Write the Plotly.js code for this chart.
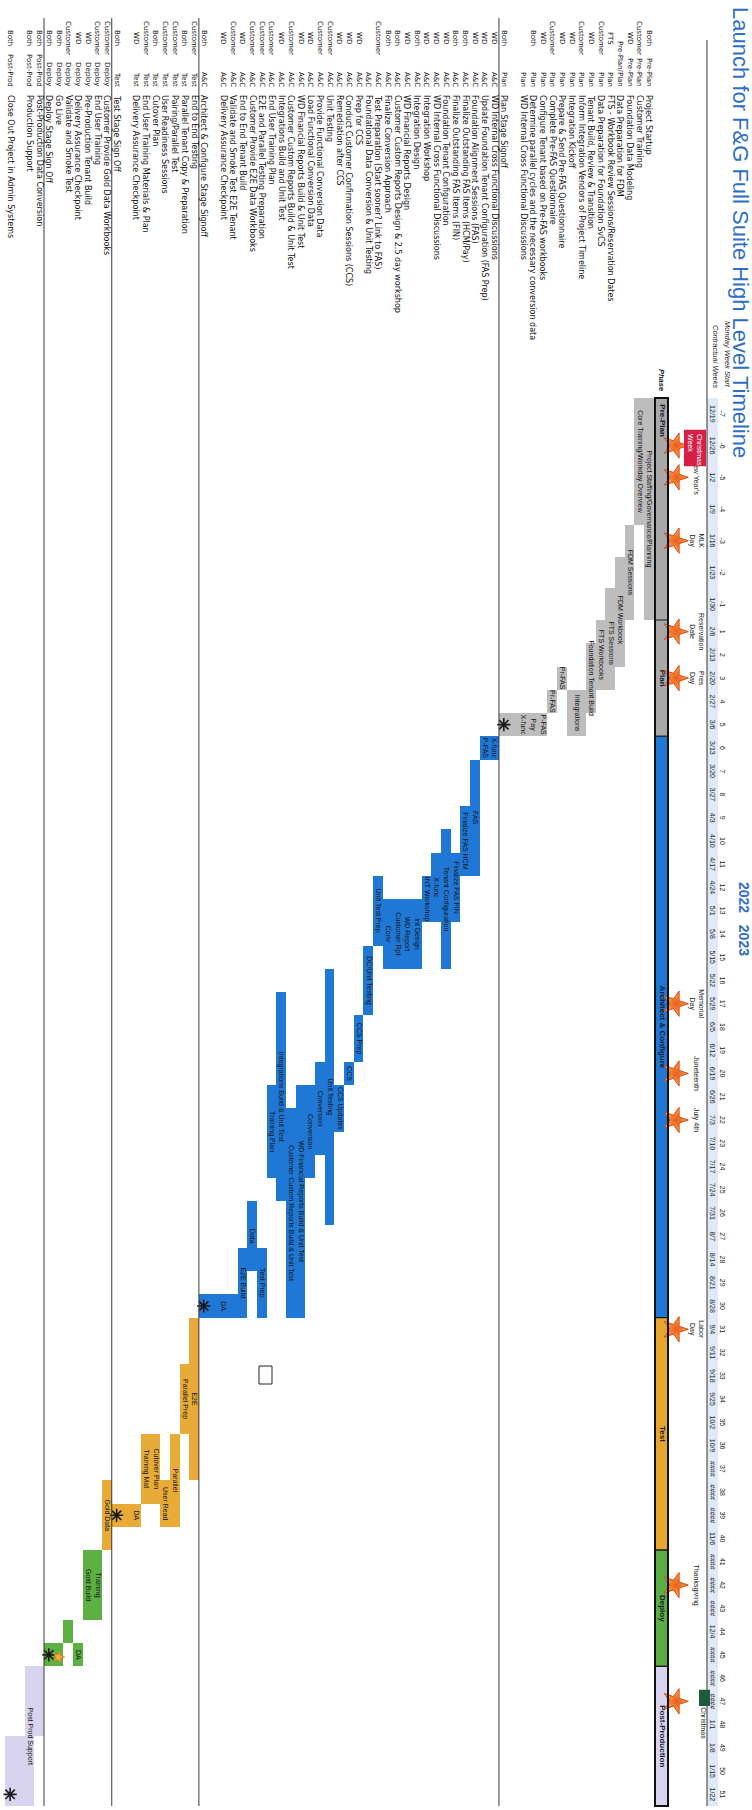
<!DOCTYPE html>
<html><head><meta charset="utf-8">
<script src="https://cdn.plot.ly/plotly-3.0.1.min.js"></script>
<style>
html,body{margin:0;padding:0;width:752px;height:1810px;overflow:hidden;background:#fff;}
#wrap{position:absolute;left:0;top:0;width:1810px;height:752px;transform-origin:0 0;}
#chart{width:1810px;height:752px;}
</style></head>
<body><div id="wrap"><div id="chart"></div></div>
<script>
// ---------------- DATA ----------------
const chartTitle = 'Launch for F&G Full Suite High Level Timeline';
const yearLabels = ['2022', '2023'];

const weekDates = ['12/19','12/26','1/2','1/9','1/16','1/23','1/30','2/6','2/13','2/20','2/27','3/6','3/13','3/20','3/27','4/3','4/10','4/17','4/24','5/1','5/8','5/15','5/22','5/29','6/5','6/12','6/19','6/26','7/3','7/10','7/17','7/24','7/31','8/7','8/14','8/21','8/28','9/4','9/11','9/18','9/25','10/2','10/9','####','####','####','11/6','####','####','####','12/4','####','####','####','1/1','1/8','1/15','1/22'];
const contractWeeks = ['-7','-6','-5','-4','-3','-2','-1','1','2','3','4','5','6','7','8','9','10','11','12','13','14','15','16','17','18','19','20','21','22','23','24','25','26','27','28','29','30','31','32','33','34','35','36','37','38','39','40','41','42','43','44','45','46','47','48','49','50','51'];

const tasks = [
 'Project Startup','Customer Training','Foundation Data Modeling','Data Preparation for FDM',
 'FTS - Workbook Review Sessions/Reservation Dates','Data Preparation for Foundation SvCS',
 'Tenant Build, Review & Transition','Inform Integration Vendors of Project Timeline','Integration Kickoff',
 'Prepare & Send Pre-FAS Questionnaire','Complete Pre-FAS Questionnaire','Configure Tenant based on Pre-FAS workbooks',
 'Determine parallel cycles and the necessary conversion data','WD Internal Cross Functional Discussions','',
 'Plan Stage Signoff',
 'WD Internal Cross Functional Discussions','Update Foundation Tenant Configuration (FAS Prep)','Foundation Alignment Sessions (FAS)',
 'Finalize Outstanding FAS Items (HCM/Pay)','Finalize Outstanding FAS Items (FIN)','Foundation Tenant Configuration',
 'WD Internal Cross Functional Discussions','Integration Workshop','Integration Design','WD Financial Reports Design',
 'Customer Custom Reports Design & 2.5 day workshop','Finalize Conversion Approach','Test Preparation (Start sooner? Link to FAS)',
 'Foundational Data Conversion & Unit Testing','Prep for CCS','Conduct Customer Confirmation Sessions (CCS)','Remediation after CCS',
 'Unit Testing','Provide Functional Conversion Data','Load Functional Conversion Data','WD Financial Reports Build & Unit Test',
 'Customer Custom Reports Build & Unit Test','Integrations Build and Unit Test','End User Training Plan',
 'E2E and Parallel Testing Preparation','Customer Provide E2E Data Workbooks','End to End Tenant Build',
 'Validate and Smoke Test E2E Tenant','Delivery Assurance Checkpoint','','Architect & Configure Stage Signoff',
 'End to End Testing','Parallel Tenant Copy & Preparation','Pairing/Parallel Test','User Readiness Sessions','Cutover Plan',
 'End User Training Materials & Plan','Delivery Assurance Checkpoint','','Test Stage Sign Off',
 'Customer Provide Gold Data Workbooks','End User Training','Pre-Production Tenant Build','Delivery Assurance Checkpoint',
 'Validate and Smoke Test','Go Live','Deploy Stage Sign Off',
 'Post-Production Data Conversion','Production Support','','Close Out Project in Admin Systems'
];
const teams = ['Both','Customer','WD','','FTS','Customer','WD','Customer','WD','WD','Customer','WD','Both','','','Both',
 'WD','WD','WD','Both','Both','WD','WD','WD','Both','WD','Both','Both','Customer','','WD','WD','WD','Customer','Customer','WD','WD','Customer','WD','Customer','Customer','Customer','WD','Customer','WD','','Both',
 'Customer','Both','Customer','Customer','Both','Customer','WD','','Both',
 'Customer','Customer','WD','WD','Customer','Both','Both',
 'Both','Both','','Both'];
const taskPhases = ['Pre-Plan','Pre-Plan','Pre-Plan','Pre-Plan/Plan','Plan','Plan','Plan','Plan','Plan','Plan','Plan','Plan','Plan','Plan','','Plan',
 'A&C','A&C','A&C','A&C','A&C','A&C','A&C','A&C','A&C','A&C','A&C','A&C','A&C','A&C','A&C','A&C','A&C','A&C','A&C','A&C','A&C','A&C','A&C','A&C','A&C','A&C','A&C','A&C','A&C','','A&C',
 'Test','Test','Test','Test','Test','Test','Test','','Test',
 'Deploy','Deploy','Deploy','Deploy','Deploy','Deploy','Deploy',
 'Post-Prod','Post-Prod','','Post-Prod'];

const phaseNames = ['Pre-Plan','Plan','Architect & Configure','Test','Deploy','Post-Production'];
const phaseStart = [0, 7, 12, 37, 47, 52];
const phaseEnd   = [7, 12, 37, 47, 52, 58];
const phaseKey   = ['preplan','plan','ac','test','deploy','post'];

// bars: first row (1-based), rows spanned, start week, end week, label, phase
const barRow   = [1,2,3,4,5,6,7,8,10,11,12,13,14,15, 17,18,19,20,21,22,23,24,25,26,27,28,29,30,31,32,33,34,35,36,37,38,39,40,41,42,43,44,45,46, 48,49,50,51,52,53,54,55,57, 58,59,60,61,62, 64,65,66];
const barSpan  = [1,1,1,1,1,1,1,2,1,1,1,1,1,2, 1,1,1,1,1,1,1,1,1,1,1,1,1,1,1,1,1,1,1,1,1,1,1,1,1,1,1,1,1,2, 1,1,1,1,1,1,1,2,1, 1,1,1,1,2, 2,1,2];
const barStart = [0,0,4,5,6,7,8,10,9,10,11,11,11,11, 12,12,13,15,17,16,17,18,19,19,19,19,18,21,24,26,27,22,26,27,27,28,23,27,34,32,34,36,36,36, 37,39,42,44,42,42,45,45,44, 47,47,51,50,51, 52,52,55];
const barEnd   = [7,4,7,9,10,10,11,12,10,11,12,12,12,12, 13,13,18,18,20,22,20,20,22,22,22,22,21,24,26,27,29,33,30,31,37,37,32,31,37,35,37,37,37,37, 44,42,46,46,45,45,46,46,47, 50,50,52,51,52, 55,58,58];
const barLabel = ['Project Staffing/Governance/Planning','Core Training/Workday Overview','FDM Sessions','FDM Workbook','FTS Sessions','FTS Workbooks','Foundation Tenant Build','Integrations','Pr-FAS','Pr-FAS','P-FAS','Pay','X-func','',
 'X-func','P-FAS','FAS','Finalize FAS HCM','Finalize FAS FIN','Tenant Configuration','X-func','INT Workshop','Int Design','WD Report','Customer Rpt','Conv','Unit Test Prep','DC/Unit Testing','CCS Prep','CCS','CCS Updates','Unit Testing','Conversion','Conversion','WD Financial Reports Build & Unit Test','Customer Custom Reports Build & Unit Test','Integrations Build & Unit Test','Training Plan','Test Prep','Data','E2E Build','','DA','',
 'E2E','Parallel Prep','Parallel','User Read','Cutover Plan','Training Mat','DA','','Gold Data',
 'Training','Gold Build','DA','','',
 '','Post Prod Support',''];
const barPhase = ['plan','plan','plan','plan','plan','plan','plan','plan','plan','plan','plan','plan','plan','plan',
 'ac','ac','ac','ac','ac','ac','ac','ac','ac','ac','ac','ac','ac','ac','ac','ac','ac','ac','ac','ac','ac','ac','ac','ac','ac','ac','ac','ac','ac','ac',
 'test','test','test','test','test','test','test','test','test',
 'deploy','deploy','deploy','deploy','deploy',
 'post','post','post'];

const holidayNames = ['Christmas<br>Week',"New Year's",'MLK<br>Day','Reservation<br>Date','Pres<br>Day','Memorial<br>Day','Juneteenth','July 4th','Labor<br>Day','Thanksgiving','Christmas'];
const holidayWeek  = [1, 2, 4, 7, 9, 23, 26, 28, 37, 48, 53];

const milestoneRow  = [16, 47, 56, 63, 67];
const milestoneWeek = [11.5, 36.5, 45.5, 51.5, 57.5];
const goLiveRow = [62];
const goLiveWeek = [51.6];

// ---------------- GEOMETRY (landscape page, rotated afterwards) ----------------
const W = 1810, H = 752;
const U0 = 398, UB = 620, U1 = 1806;          // pre-plan columns are wider on the sheet
const WSPLIT = contractWeeks.indexOf('1');      // first contractual week
const ROW1_V = 103, PITCH = 9.68;
const slotOfV = v => 1 + (v - ROW1_V) / PITCH;
const px = u => u / W;
const py = v => 1 - v / H;
const FONT = 'Liberation Sans, Arial, Helvetica, sans-serif';
const FONT_LIST = 'DejaVu Sans, Verdana, sans-serif';
const nW = weekDates.length;
const axisOf = w => (w < WSPLIT ? 'x' : 'x2');

const colors = {plan:'#bdbdbd', ac:'#1f78d6', test:'#e9ab37', deploy:'#5db143', post:'#d8d3ee'};
const phaseBarColors = {preplan:'#a9a9a9', plan:'#a9a9a9', ac:'#1f78d6', test:'#e6a62e', deploy:'#5aae44', post:'#d8d3ee'};

const traces = [];
const ann = [];
const shapes = [];

// split interval bars over the two time axes
function barTraces(starts, ends, ys, widths, cols, lineSpec) {
  ['x','x2'].forEach(ax => {
    const b = [], len = [], y = [], wd = [], c = [];
    starts.forEach((s, i) => {
      const e = ends[i];
      const lo = ax === 'x' ? s : Math.max(s, WSPLIT);
      const hi = ax === 'x' ? Math.min(e, WSPLIT) : e;
      if (hi > lo) { b.push(lo); len.push(hi - lo); y.push(ys[i]); wd.push(widths[i]); c.push(cols[i]); }
    });
    if (b.length) traces.push({type:'bar', orientation:'h', xaxis:ax, yaxis:'y', base:b, x:len, y:y, width:wd,
      marker:{color:c, line:lineSpec || {width:0}}, hoverinfo:'skip'});
  });
}
// split point traces (text / markers) over the two time axes
function pointTraces(xs, ys, spec) {
  ['x','x2'].forEach(ax => {
    const idx = xs.map((w,i)=> axisOf(w) === ax ? i : -1).filter(i => i >= 0);
    if (!idx.length) return;
    const t = Object.assign({type:'scatter', xaxis:ax, yaxis:'y', cliponaxis:false, hoverinfo:'skip'}, spec);
    t.x = idx.map(i => xs[i]); t.y = idx.map(i => ys[i]);
    if (Array.isArray(spec.text)) t.text = idx.map(i => spec.text[i]);
    if (Array.isArray(spec.textposition)) t.textposition = idx.map(i => spec.textposition[i]);
    traces.push(t);
  });
}

// header band + rule
shapes.push({type:'rect', xref:'paper', yref:'paper', x0:px(U0), x1:px(U1), y0:py(45), y1:py(34), fillcolor:'#e0eaf7', line:{width:0}, layer:'below'});
shapes.push({type:'line', xref:'paper', yref:'paper', x0:px(40), x1:px(U1), y0:py(45), y1:py(45), line:{color:'#333', width:1}});

// stage separator lines
tasks.forEach((t, i) => {
  if (/Stage Sign/i.test(t)) {
    const y = i + 1 + 0.5;
    shapes.push({type:'line', xref:'paper', yref:'y', x0:px(18), x1:px(U1), y0:y, y1:y, line:{color:'#3a3a3a', width:1}});
  }
});

// phase bar
const PH_TOP = 84, PH_BOT = 97;
const phY = slotOfV((PH_TOP + PH_BOT) / 2), phW = (PH_BOT - PH_TOP) / PITCH;
barTraces(phaseStart, phaseEnd, phaseNames.map(()=>phY), phaseNames.map(()=>phW), phaseKey.map(k=>phaseBarColors[k]), {color:'#1a1a1a', width:1.2});
shapes.push({type:'rect', xref:'paper', yref:'y', x0:px(U0), x1:px(U1), y0:phY - phW/2, y1:phY + phW/2, line:{color:'#111', width:2}, fillcolor:'rgba(0,0,0,0)'});
pointTraces(phaseNames.map((n,i)=> i===0 ? phaseStart[i] + 0.2 : (phaseStart[i]+phaseEnd[i])/2), phaseNames.map(()=>phY),
  {mode:'text', text:phaseNames.map(n=>'<b>'+n+'</b>'), textposition:phaseNames.map((n,i)=> i===0 ? 'middle right' : 'middle center'),
   textfont:{family:FONT, size:8, color:'#1b1b2e'}});

// task bars
barTraces(barStart, barEnd, barRow.map((r,i)=> r + (barSpan[i]-1)/2), barSpan, barPhase.map(k=>colors[k]));
// bar labels
pointTraces(barLabel.map((l,i)=>(barStart[i]+barEnd[i])/2), barLabel.map((l,i)=>barRow[i] + (barSpan[i]-1)/2),
  {mode:'text', text:barLabel, textposition:'middle center', textfont:{family:FONT, size:7, color:'#141414'}});

// week header rows
pointTraces(weekDates.map((d,i)=>i+0.5), weekDates.map(()=>slotOfV(40)),
  {mode:'text', text:weekDates, textfont:{family:FONT, size:7, color:'#222'}});
pointTraces(contractWeeks.map((d,i)=>i+0.5), contractWeeks.map(()=>slotOfV(30)),
  {mode:'text', text:contractWeeks, textfont:{family:FONT, size:7, color:'#222'}});

// holiday boxes and labels
shapes.push({type:'rect', xref:axisOf(holidayWeek[0]), yref:'paper', x0:holidayWeek[0], x1:holidayWeek[0]+1.15, y0:py(68), y1:py(46), fillcolor:'#d61f45', line:{width:0}});
ann.push({xref:axisOf(holidayWeek[0]), yref:'paper', x:holidayWeek[0]+0.06, y:py(57), xanchor:'left', yanchor:'middle', showarrow:false, align:'left',
  text:holidayNames[0], font:{family:FONT, size:7, color:'#fff'}});
const lastH = holidayNames.length - 1;
shapes.push({type:'rect', xref:axisOf(holidayWeek[lastH]), yref:'paper', x0:holidayWeek[lastH], x1:holidayWeek[lastH]+0.7, y0:py(53), y1:py(42), fillcolor:'#1d5b3c', line:{width:0}});
const hx = holidayNames.map((n,i)=> i===lastH ? holidayWeek[i]+0.75 : holidayWeek[i]+0.5);
const hy = holidayNames.map((n,i)=> i===lastH ? slotOfV(49) : slotOfV(56));
const hText = holidayNames.map((n,i)=> i===0 ? '' : n);
pointTraces(hx, hy, {mode:'text', text:hText, textposition:holidayNames.map((n,i)=> i===lastH ? 'middle right' : 'middle center'),
  textfont:{family:FONT, size:7, color:'#222'}});
// holiday stars
pointTraces(holidayWeek.map(w=>w+0.5), holidayWeek.map(()=>slotOfV(77)),
  {mode:'markers', marker:{symbol:'star', size:19, color:'#f4b23c', gradient:{type:'radial', color:'#ef5a1f'}, line:{color:'#d9451b', width:1}}});

// milestones
pointTraces(milestoneWeek, milestoneRow,
  {mode:'markers', marker:{symbol:'asterisk-open', size:11, color:'#1a1a1a', line:{color:'#1a1a1a', width:1.6}}});
pointTraces(goLiveWeek, goLiveRow,
  {mode:'markers', marker:{symbol:'star', size:9, color:'#f2b13a', line:{color:'#e27a1e', width:0.8}}});

// task list (team / phase / task)
tasks.forEach((t, i) => {
  const y = i + 1;
  if (teams[i]) ann.push({xref:'paper', yref:'y', x:px(38), y, text:teams[i], showarrow:false, xanchor:'center', yanchor:'middle', borderpad:0, font:{family:FONT_LIST, size:7, color:'#111'}});
  if (taskPhases[i]) ann.push({xref:'paper', yref:'y', x:px(88), y, text:taskPhases[i], showarrow:false, xanchor:'right', yanchor:'middle', borderpad:0, font:{family:FONT_LIST, size:7, color:'#111'}});
  if (t) ann.push({xref:'paper', yref:'y', x:px(94), y, text:t, showarrow:false, xanchor:'left', yanchor:'middle', borderpad:0, font:{family:FONT_LIST, size:8, color:'#111'}});
});

// header labels
ann.push({xref:'paper', yref:'paper', x:px(390), y:py(25), text:'<i>Monday Week Start</i>', showarrow:false, xanchor:'right', yanchor:'middle', font:{family:FONT, size:7.5, color:'#222'}});
ann.push({xref:'paper', yref:'paper', x:px(390), y:py(37), text:'<i>Contractual Weeks</i>', showarrow:false, xanchor:'right', yanchor:'middle', font:{family:FONT, size:7.5, color:'#222'}});
ann.push({xref:'paper', yref:'paper', x:px(393), y:py(90.5), text:'<b><i>Phase</i></b>', showarrow:false, xanchor:'right', yanchor:'middle', font:{family:FONT, size:7.5, color:'#111'}});

// title and years
ann.push({xref:'paper', yref:'paper', x:px(5), y:py(11), text:chartTitle, showarrow:false, xanchor:'left', yanchor:'middle', font:{family:FONT, size:22, color:'#2f6fc6'}});
ann.push({xref:'paper', yref:'paper', x:px(880), y:py(8), text:'<b>' + yearLabels.join('&nbsp;&nbsp;&nbsp;') + '</b>', showarrow:false, xanchor:'left', yanchor:'middle', font:{family:FONT, size:14, color:'#2f6fc6'}});

// stray empty box on the page
shapes.push({type:'rect', xref:'paper', yref:'paper', x0:px(1366), x1:px(1384), y0:py(493), y1:py(480), line:{color:'#222', width:1}, fillcolor:'rgba(0,0,0,0)'});

const layout = {
  width: W, height: H,
  margin:{l:0, r:0, t:0, b:0, pad:0},
  paper_bgcolor:'#ffffff', plot_bgcolor:'rgba(0,0,0,0)',
  xaxis:{domain:[px(U0), px(UB)], range:[0, WSPLIT], visible:false, fixedrange:true},
  xaxis2:{domain:[px(UB), px(U1)], range:[WSPLIT, nW], visible:false, fixedrange:true, anchor:'y'},
  yaxis:{range:[slotOfV(H), slotOfV(0)], visible:false, fixedrange:true},
  barmode:'overlay', bargap:0, showlegend:false, hovermode:false,
  annotations: ann, shapes: shapes,
  font:{family:FONT}
};

Plotly.newPlot('chart', traces, layout, {staticPlot:true, displayModeBar:false}).then(() => {
  document.getElementById('wrap').style.transform = 'translate(752px,0) rotate(90deg)';
});
</script>
</body></html>
